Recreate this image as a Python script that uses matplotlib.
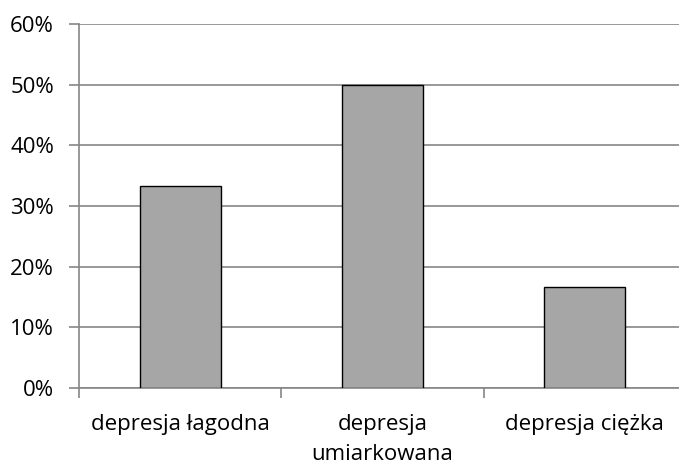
import numpy as np
import matplotlib.pyplot as plt
from matplotlib.ticker import PercentFormatter, FixedLocator

# data
categories = ["depresja łagodna", "depresja\numiarkowana", "depresja ciężka"]
shares = [33.33, 50.0, 16.67]
y_ticks = [0, 10, 20, 30, 40, 50, 60]

plt.rcParams["font.family"] = ["Open Sans", "DejaVu Sans"]

fig = plt.figure(figsize=(6.79, 4.65), dpi=100)
ax = fig.add_axes([0.1163, 0.1656, 0.894, 0.7824])

x = np.arange(len(categories))
ax.bar(x, shares, width=0.4, color="#A6A6A6", edgecolor="black", linewidth=1, zorder=3)

ax.set_xlim(-0.5, len(categories) - 0.5)
ax.set_ylim(0, 60)
ax.set_yticks(y_ticks)
ax.yaxis.set_major_formatter(PercentFormatter(decimals=0))
ax.yaxis.grid(True, color="#868686", linewidth=1.2, zorder=0)

ax.set_xticks(x)
ax.set_xticklabels(categories, fontsize=16, linespacing=1.55)
ax.xaxis.set_minor_locator(FixedLocator([-0.5, 0.5, 1.5, 2.5]))
ax.tick_params(axis="x", which="major", length=0, pad=19)
ax.tick_params(axis="x", which="minor", length=7, width=1.2, color="#868686")
ax.tick_params(axis="y", length=7, width=1.2, color="#868686", labelsize=16, pad=11)

for side in ["top", "right"]:
    ax.spines[side].set_visible(False)
for side in ["left", "bottom"]:
    ax.spines[side].set_color("#868686")
    ax.spines[side].set_linewidth(1.2)

fig.savefig("out.png", dpi=100)
